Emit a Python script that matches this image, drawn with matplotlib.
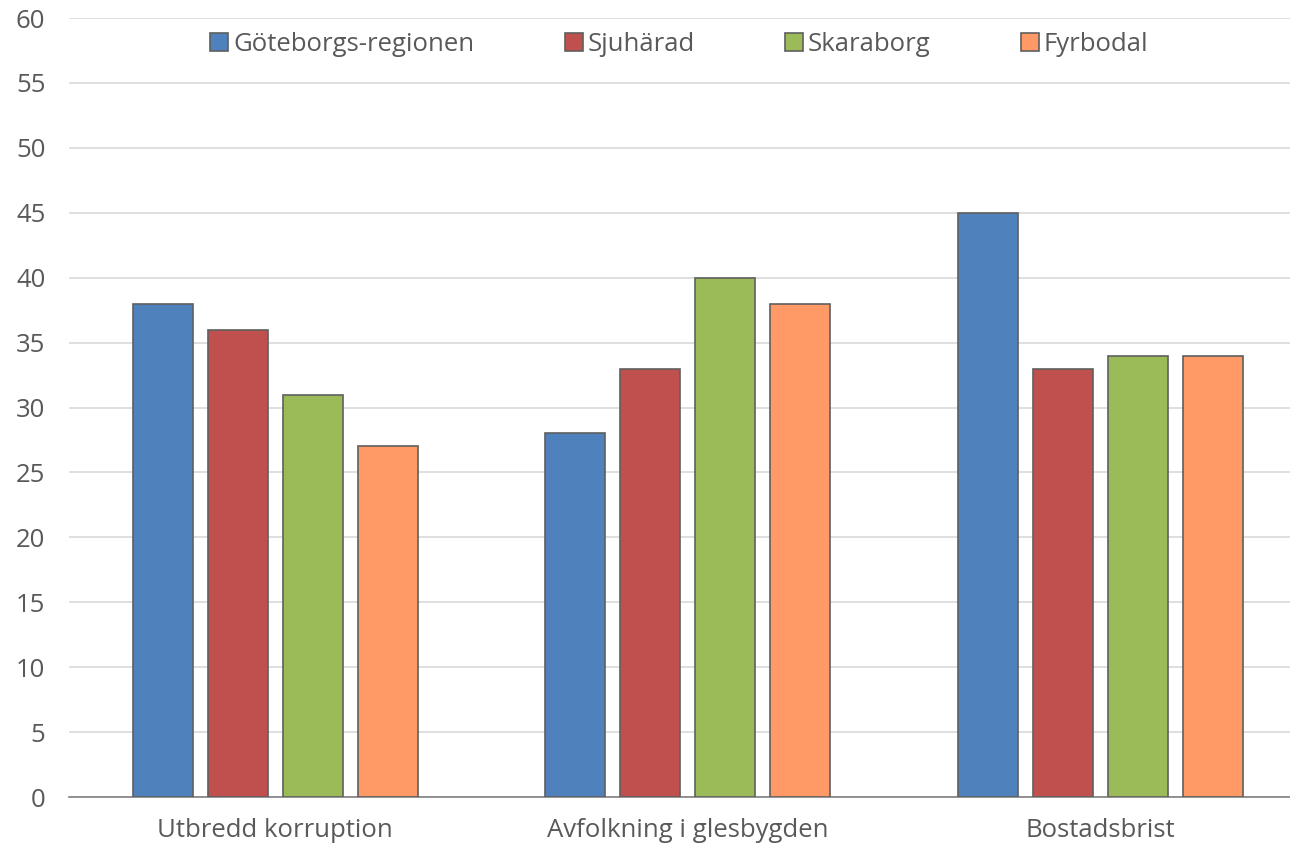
import numpy as np
import matplotlib.pyplot as plt

categories = ["Utbredd korruption", "Avfolkning i glesbygden", "Bostadsbrist"]
series_names = ["Göteborgs-regionen", "Sjuhärad", "Skaraborg", "Fyrbodal"]
goteborg = [38, 28, 45]
sjuharad = [36, 33, 33]
skaraborg = [31, 40, 34]
fyrbodal = [27, 38, 34]
colors = ["#4F81BD", "#C0504D", "#9BBB59", "#FF9966"]

plt.rcParams['font.family'] = ['Open Sans', 'DejaVu Sans']

fig = plt.figure(figsize=(12.9, 8.46), dpi=100)
ax = fig.add_axes([0.0535, 0.0579, 0.9465, 0.9208])

x = np.arange(len(categories))
width = 0.145
pitch = 0.182
all_series = [goteborg, sjuharad, skaraborg, fyrbodal]
for i, (vals, name, col) in enumerate(zip(all_series, series_names, colors)):
    ax.bar(x + (i - 1.5) * pitch, vals, width, color=col, edgecolor="#5f5f5f",
           linewidth=1.2, label=name, zorder=3)

ax.set_ylim(0, 60)
ax.set_yticks(range(0, 61, 5))
ax.set_xlim(-0.5, 2.46)
ax.set_xticks(x)
ax.set_xticklabels(categories)
ax.grid(axis="y", color="#D9D9D9", linewidth=1.2, zorder=0)
ax.tick_params(axis="both", length=0, labelsize=18.5, labelcolor="#595959")
ax.tick_params(axis="y", pad=17)
ax.tick_params(axis="x", pad=15)
for s in ["top", "right", "left"]:
    ax.spines[s].set_visible(False)
ax.spines["bottom"].set_color("#808080")
ax.spines["bottom"].set_linewidth(1.2)

leg = ax.legend(loc="upper center", bbox_to_anchor=(0.5, 1.012), ncol=4, frameon=False,
                fontsize=18.5, handlelength=0.7, handleheight=0.7, handletextpad=0.2,
                columnspacing=3.5, labelcolor="#595959")

fig.savefig("out.png", dpi=100)
